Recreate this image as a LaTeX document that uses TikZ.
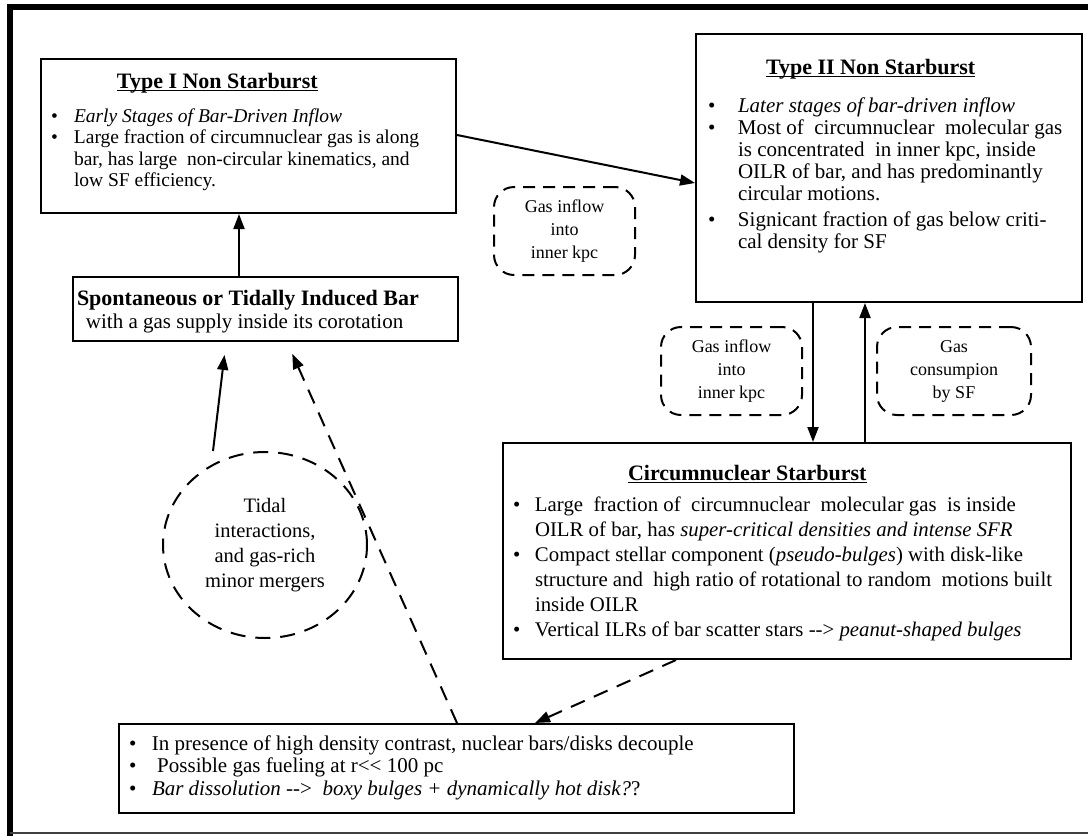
\documentclass[tikz,border=0pt]{standalone}
\usepackage{fontspec}
\setmainfont{Liberation Serif}
\usetikzlibrary{arrows.meta,shapes.geometric}
\newcommand{\bul}[3]{\par\noindent\hspace*{#1}\makebox[\dimexpr#2-#1\relax][l]{•}\mbox{#3}}
\newcommand{\cnt}[2]{\par\noindent\hspace*{#1}\mbox{#2}}
\newcommand{\ttlu}[1]{\setbox0\hbox{\bfseries #1}\rlap{\rule[-3pt]{\wd0}{1.3pt}}\box0}
\newcommand{\fs}[2]{\fontsize{#1}{#2}\selectfont}
\tikzset{
  x=1pt, y=-1pt,
  box/.style={draw, line width=2pt, inner sep=0pt, anchor=north west},
  dbox/.style={draw, line width=2pt, dash pattern=on 12pt off 8pt, rounded corners=20pt,
    inner sep=0pt, align=center, font=\fs{18}{23}},
  conn/.style={line width=2pt, -{Triangle[length=15pt,width=11pt]}},
  dconn/.style={conn, dash pattern=on 15pt off 10pt},
}
\begin{document}
\begin{tikzpicture}
\useasboundingbox (0,0) rectangle (1088,836);
% outer frame
\draw[line width=6pt] (9.5,836) -- (9.5,6.5) -- (1088,6.5);
\draw[line width=1.5pt, black!75] (9.5,833) -- (1088,833);

% Type I
\node[box] (t1) at (40,58) {\begin{minipage}[t][154pt][t]{415pt}\fs{22}{22}%
\rule{0pt}{29pt}\hspace*{76pt}\ttlu{Type I Non Starburst}\par\vspace{12.5pt}\fs{19.5}{21.5}%
\bul{10pt}{33pt}{\itshape Early Stages of Bar-Driven Inflow}%
\bul{10pt}{33pt}{Large fraction of circumnuclear gas is along}%
\cnt{33pt}{bar, has large\ \ non-circular kinematics, and}%
\cnt{33pt}{low SF efficiency.}%
\end{minipage}};

% Type II
\node[box] (t2) at (695,33) {\begin{minipage}[t][268pt][t]{386pt}\fs{22}{22}%
\rule{0pt}{40pt}\hspace*{70pt}\ttlu{Type II Non Starburst}\par\vspace{16pt}\fs{21}{22}%
\bul{12pt}{42pt}{\itshape Later stages of bar-driven inflow}%
\bul{12pt}{42pt}{Most of\ \ circumnuclear\ \ molecular gas}%
\cnt{42pt}{is concentrated\ \ in inner kpc, inside}%
\cnt{42pt}{OILR of bar, and has predominantly}%
\cnt{42pt}{circular motions.}\par\vspace{4pt}%
\bul{12pt}{42pt}{Signicant fraction of gas below criti-}%
\cnt{42pt}{cal density for SF}%
\end{minipage}};

% Spontaneous bar
\node[box] (sp) at (72,276) {\begin{minipage}[t][64pt][t]{385pt}\fs{22}{23}%
\rule{0pt}{28pt}\hspace*{4pt}\textbf{Spontaneous or Tidally Induced Bar}\par\fs{21}{23.5}%
\cnt{13pt}{with a gas supply inside its corotation}%
\end{minipage}};

% Circumnuclear starburst
\node[box] (cn) at (502,442) {\begin{minipage}[t][216pt][t]{568pt}\fs{22}{22}%
\rule{0pt}{37pt}\hspace*{125pt}\ttlu{Circumnuclear Starburst}\par\vspace{6pt}\fs{20.8}{25}%
\bul{10pt}{32pt}{Large\ \ fraction of\ \ circumnuclear\ \ molecular gas\ \ is inside}%
\cnt{32pt}{OILR of bar, ha\textit{s super-critical densities and intense SFR}}%
\bul{10pt}{32pt}{Compact stellar component (\textit{pseudo-bulges}) with disk-like}%
\cnt{32pt}{structure and\ \ high ratio of rotational to random\ \ motions built}%
\cnt{32pt}{inside OILR}%
\bul{10pt}{32pt}{Vertical ILRs of bar scatter stars \mbox{-}\mbox{-}>\ \textit{peanut-shaped bulges}}%
\end{minipage}};

% Bottom box
\node[box] (bt) at (118,723) {\begin{minipage}[t][89pt][t]{675pt}\fs{21}{22.5}%
\rule{0pt}{26pt}\hspace*{10pt}\makebox[23pt][l]{•}\mbox{In presence of high density contrast, nuclear bars/disks decouple}%
\bul{10pt}{33pt}{\ Possible gas fueling at r\mbox{<}\mbox{<} 100 pc}%
\bul{10pt}{33pt}{\textit{Bar dissolution} \mbox{-}\mbox{-}>\ \ \textit{boxy bulges + dynamically hot disk?}?}%
\end{minipage}};

% dashed labels
\node[dbox, minimum width=141pt, minimum height=88pt] (g1) at (564.5,231) {Gas inflow\\into\\inner kpc};
\node[dbox, minimum width=141pt, minimum height=88pt] (g2) at (731.5,371) {Gas inflow\\into\\inner kpc};
\node[dbox, minimum width=154pt, minimum height=88pt] (g3) at (954,371) {Gas\\consumpion\\by SF};

% ellipse
\node[ellipse, draw, line width=2pt, dash pattern=on 15pt off 10pt, minimum width=204pt,
  minimum height=186pt, align=center, font=\fs{20.5}{25}, inner sep=0pt] (circ) at (265,545)
  {Tidal\\interactions,\\and gas-rich\\minor mergers};

% connectors
\draw[conn] (sp.north -| 239,0) -- (t1.south -| 239,0);
\draw[conn] (t1.east |- 0,135) -- (t2.west |- 0,183);
\draw[conn] (t2.south -| 813,0) -- (cn.north -| 813,0);
\draw[conn] (cn.north -| 865,0) -- (t2.south -| 865,0);
\draw[conn, shorten >=13pt] (circ.north -| 213,0) -- (sp.south -| 226,0);
\draw[dconn, shorten >=13pt] (bt.north -| 457,0) -- (sp.south -| 287,0);
\draw[dconn] (cn.south -| 676,0) -- (bt.north -| 535,0);
\end{tikzpicture}
\end{document}
